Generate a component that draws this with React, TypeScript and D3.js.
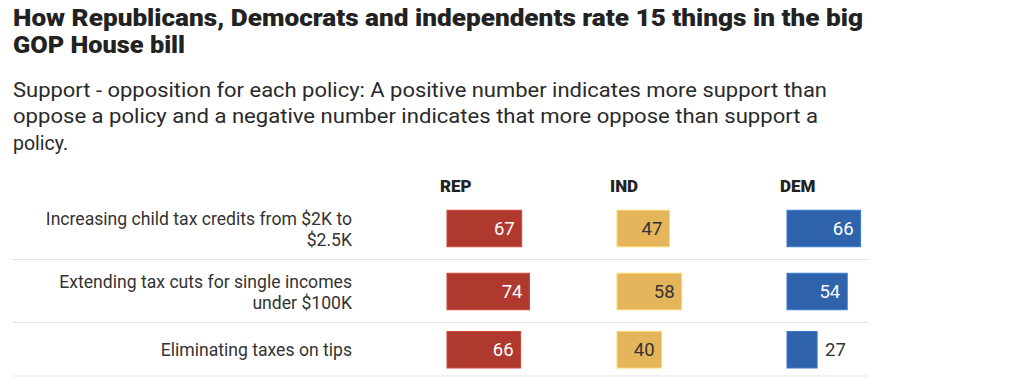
import React from "react";
import * as d3 from "d3";

const titleLines = [
  "How Republicans, Democrats and independents rate 15 things in the big",
  "GOP House bill",
];
const subtitleLines = [
  "Support - opposition for each policy: A positive number indicates more support than",
  "oppose a policy and a negative number indicates that more oppose than support a",
  "policy.",
];
const groups = ["REP", "IND", "DEM"];
const policyLabels = [
  ["Increasing child tax credits from $2K to", "$2.5K"],
  ["Extending tax cuts for single incomes", "under $100K"],
  ["Eliminating taxes on tips"],
];
const repValues = [67, 74, 66];
const indValues = [47, 58, 40];
const demValues = [66, 54, 27];

const groupColors = ["#b0392f", "#e4b55b", "#2f64ad"];
const groupTextColors = ["#ffffff", "#333333", "#ffffff"];

export default function App() {
  const W = 1024;
  const H = 387;
  const values = [repValues, indValues, demValues];

  const colX = d3.scalePoint<string>().domain(groups).range([447, 787]);
  const x = d3.scaleLinear().domain([0, 100]).range([0, 111.5]);

  const barH = 36.5;
  const pad = 8.5;
  const lineH = 23;
  let top = 197;
  const rows = policyLabels.map((lines, i) => {
    const h = Math.max(barH, lines.length * lineH) + 2 * pad;
    const r = { top, h, center: top + h / 2, lines, i };
    top += h;
    return r;
  });

  const titleWidths = [850, 172];
  const subWidths = [814, 805, null];

  return (
    <svg
      width={W}
      height={H}
      style={{ position: "absolute", left: 0, top: 0, background: "#fff" }}
      fontFamily="Roboto, 'Noto Sans', sans-serif"
    >
      {titleLines.map((t, i) => (
        <text
          key={t}
          x={13}
          y={25.5 + i * 27.5}
          fontSize={24.5}
          fontWeight={900}
          fill="#222"
          {...(titleWidths[i] ? { textLength: titleWidths[i], lengthAdjust: "spacingAndGlyphs" } : {})}
        >
          {t}
        </text>
      ))}
      {subtitleLines.map((t, i) => (
        <text
          key={t}
          x={13}
          y={96.5 + i * 26.5}
          fontSize={19.5}
          fill="#2a2a2a"
          {...(subWidths[i] ? { textLength: subWidths[i], lengthAdjust: "spacingAndGlyphs" } : {})}
        >
          {t}
        </text>
      ))}
      {groups.map((g) => (
        <text
          key={g}
          x={(colX(g) as number) - 7}
          y={192}
          fontSize={17}
          fontWeight={900}
          fill="#222"
        >
          {g}
        </text>
      ))}
      {rows.map((r) => (
        <g key={r.i}>
          {r.lines.map((ln, j) => (
            <text
              key={j}
              x={352}
              y={
                r.lines.length === 1
                  ? r.center + 6
                  : r.center - 4 + j * 21
              }
              textAnchor="end"
              fontSize={17.6}
              fill="#333"
            >
              {ln}
            </text>
          ))}
          <line
            x1={13}
            x2={868}
            y1={r.top + r.h - 0.5}
            y2={r.top + r.h - 0.5}
            stroke="#e3e3e3"
            strokeWidth={1.2}
          />
          {groups.map((g, gi) => {
            const v = values[gi][r.i];
            const bx = colX(g) as number;
            const bw = x(v);
            const by = r.center - barH / 2;
            const inside = bw > 36;
            const c = groupColors[gi];
            return (
              <g key={g}>
                <rect
                  x={bx}
                  y={by}
                  width={bw}
                  height={barH}
                  fill={c}
                  stroke={d3.color(c)!.brighter(0.5).formatHex()}
                  strokeWidth={1}
                />
                <text
                  x={inside ? bx + bw - 7 : bx + bw + 8}
                  y={r.center + 6.5}
                  textAnchor={inside ? "end" : "start"}
                  fontSize={18.5}
                  fill={inside ? groupTextColors[gi] : "#333"}
                >
                  {v}
                </text>
              </g>
            );
          })}
        </g>
      ))}
    </svg>
  );
}
